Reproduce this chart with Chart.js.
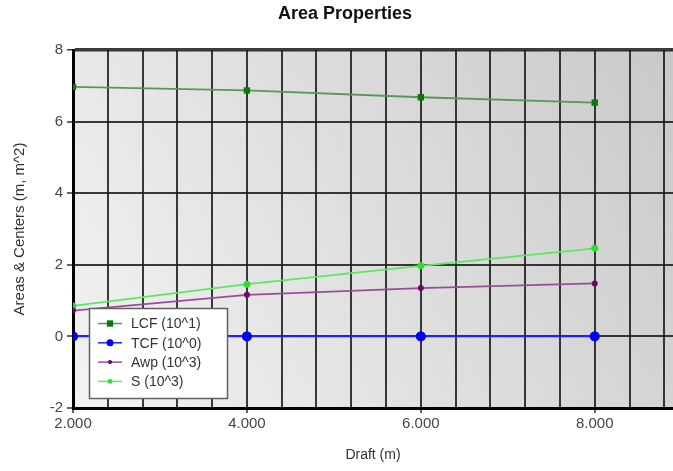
<!DOCTYPE html>
<html>
<head>
<meta charset="utf-8">
<title>Area Properties</title>
<script src="https://cdn.jsdelivr.net/npm/chart.js@4/dist/chart.umd.min.js"></script>
<style>
  html, body { margin: 0; padding: 0; background: #fff; }
  canvas { display: block; }
</style>
</head>
<body>
<canvas id="area-chart" width="673" height="471"></canvas>
<script>
(function () {
  'use strict';

  // Draft stations (m) and the hydrostatic curves, already scaled
  var drafts = [2, 4, 6, 8];
  var lcf = [6.97, 6.87, 6.68, 6.53];
  var tcf = [0, 0, 0, 0];
  var awp = [0.72, 1.16, 1.35, 1.48];
  var wetted = [0.85, 1.46, 1.97, 2.46];

  var seriesNames = ['LCF (10^1)', 'TCF (10^0)', 'Awp (10^3)', 'S (10^3)'];
  var labelledDrafts = [2, 4, 6, 8];

  var chartTitle = 'Area Properties';
  var xTitle = 'Draft (m)';
  var yTitle = 'Areas & Centers (m, m^2)';

  var FONT = '"Liberation Sans", Arial, sans-serif';

  function points(values) {
    return drafts.map(function (d, i) {
      return { x: d, y: values[i] };
    });
  }

  function isLabelled(v) {
    for (var i = 0; i < labelledDrafts.length; i++) {
      if (Math.abs(v - labelledDrafts[i]) < 1e-6) {
        return true;
      }
    }
    return false;
  }

  // shaded plot background, light at lower left, darker towards upper right
  var plotShade = {
    id: 'plotShade',
    beforeDraw: function (chart) {
      var a = chart.chartArea;
      var ctx = chart.ctx;
      var g = ctx.createLinearGradient(a.left, a.bottom, a.right, a.top);
      g.addColorStop(0, '#f3f3f3');
      g.addColorStop(1, '#c9c9c9');
      ctx.save();
      ctx.fillStyle = g;
      ctx.fillRect(a.left, a.top, a.right - a.left, a.bottom - a.top);
      ctx.restore();
    },
  };

  var heading = {
    id: 'heading',
    afterDraw: function (chart) {
      var ctx = chart.ctx;
      ctx.save();
      ctx.font = 'bold 18px ' + FONT;
      ctx.fillStyle = '#111';
      ctx.textAlign = 'center';
      ctx.textBaseline = 'middle';
      ctx.fillText(chartTitle, 345, 14);
      ctx.restore();
    },
  };

  function marker(ctx, style, r, x, y) {
    ctx.beginPath();
    if (style === 'rect') {
      ctx.rect(x - r, y - r, r * 2, r * 2);
    } else {
      ctx.arc(x, y, r, 0, Math.PI * 2);
    }
    ctx.fill();
  }

  // boxed legend sitting inside the plot, over the lines
  var legendBox = {
    id: 'legendBox',
    afterDatasetsDraw: function (chart) {
      var ctx = chart.ctx;
      var x = 89, y = 308, w = 138, h = 90;
      ctx.save();
      ctx.fillStyle = '#fff';
      ctx.fillRect(x, y, w, h);
      ctx.strokeStyle = '#606060';
      ctx.lineWidth = 1.5;
      ctx.strokeRect(x + 0.5, y + 0.5, w, h);
      ctx.font = '14px ' + FONT;
      ctx.textBaseline = 'middle';
      chart.data.datasets.forEach(function (ds, i) {
        var rowY = y + 15.5 + i * 19.3;
        ctx.strokeStyle = ds.borderColor;
        ctx.lineWidth = 1.5;
        ctx.beginPath();
        ctx.moveTo(x + 9, rowY);
        ctx.lineTo(x + 33, rowY);
        ctx.stroke();
        ctx.fillStyle = ds.pointBackgroundColor;
        marker(ctx, ds.pointStyle, ds.pointRadius * 0.7, x + 21, rowY);
        ctx.fillStyle = '#333';
        ctx.fillText(ds.label, x + 42, rowY + 1);
      });
      ctx.restore();
    },
  };

  function series(name, values, line, fill, style, radius) {
    return {
      label: name,
      data: points(values),
      borderColor: line,
      borderWidth: 1.8,
      pointStyle: style,
      pointRadius: radius,
      pointHoverRadius: radius,
      pointBackgroundColor: fill,
      pointBorderColor: fill,
      pointBorderWidth: 0,
      tension: 0,
    };
  }

  var ctx = document.getElementById('area-chart').getContext('2d');
  new Chart(ctx, {
    type: 'line',
    data: {
      datasets: [
        series(seriesNames[0], lcf, '#5a965a', '#087a08', 'rect', 4.5),
        series(seriesNames[1], tcf, '#2020ff', '#0000ee', 'circle', 5),
        series(seriesNames[2], awp, '#9a4c9a', '#6a0a6a', 'circle', 3),
        series(seriesNames[3], wetted, '#5ee85e', '#2ee02e', 'circle', 3.5),
      ],
    },
    options: {
      responsive: false,
      animation: false,
      layout: { autoPadding: false, padding: { top: 50, left: 0, right: 0, bottom: 0 } },
      plugins: {
        legend: { display: false },
        tooltip: { enabled: false },
      },
      scales: {
        x: {
          type: 'linear',
          min: 2,
          max: 8.9,
          afterFit: function (scale) {
            scale.height = 63;
            scale.paddingRight = 0;
          },
          afterBuildTicks: function (scale) {
            var ticks = [];
            for (var i = 0; i <= 17; i++) {
              ticks.push({ value: Math.round((2 + i * 0.4) * 10) / 10 });
            }
            scale.ticks = ticks;
          },
          grid: {
            color: 'rgba(25,25,25,0.85)',
            lineWidth: 2,
            drawTicks: true,
            tickLength: 5,
            tickWidth: 1.5,
            tickColor: function (c) {
              return c.tick && isLabelled(c.tick.value) ? '#333' : 'rgba(0,0,0,0)';
            },
          },
          border: { display: true, color: '#000', width: 3 },
          ticks: {
            autoSkip: false,
            maxRotation: 0,
            padding: 2,
            color: '#444',
            font: { family: FONT, size: 15 },
            callback: function (v) {
              return isLabelled(v) ? Number(v).toFixed(3) : '';
            },
          },
          title: {
            display: true,
            text: xTitle,
            color: '#333',
            font: { family: FONT, size: 14 },
            padding: { top: 0, bottom: 7 },
          },
        },
        y: {
          type: 'linear',
          min: -2,
          max: 8,
          afterFit: function (scale) {
            scale.width = 73;
          },
          grid: {
            color: 'rgba(25,25,25,0.85)',
            lineWidth: function (c) {
              return c.tick && c.tick.value === 8 ? 3.5 : 2;
            },
            drawTicks: true,
            tickLength: 6,
            tickWidth: 1.5,
            tickColor: '#333',
          },
          border: { display: true, color: '#000', width: 3 },
          ticks: {
            stepSize: 2,
            padding: 4,
            color: '#444',
            font: { family: FONT, size: 15 },
          },
          title: {
            display: true,
            text: yTitle,
            color: '#333',
            font: { family: FONT, size: 15 },
            padding: { top: 11, bottom: 0 },
          },
        },
      },
    },
    plugins: [plotShade, legendBox, heading],
  });
})();
</script>
</body>
</html>
